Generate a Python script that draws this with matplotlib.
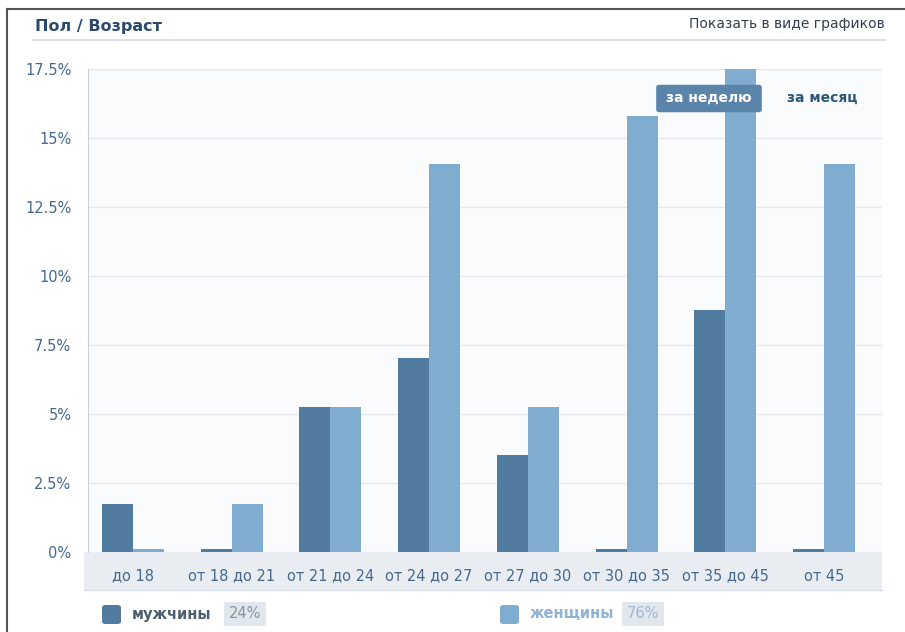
import numpy as np
from matplotlib import pyplot as plt
from matplotlib.patches import FancyBboxPatch, Rectangle
from matplotlib.lines import Line2D

categories = ['до 18', 'от 18 до 21', 'от 21 до 24', 'от 24 до 27',
              'от 27 до 30', 'от 30 до 35', 'от 35 до 45', 'от 45']
men = [1.75, 0, 5.26, 7.02, 3.51, 0, 8.77, 0]
women = [0, 1.75, 5.26, 14.04, 5.26, 15.79, 17.54, 14.04]
yticks = [0, 2.5, 5, 7.5, 10, 12.5, 15, 17.5]
ytick_labels = ['0%', '2.5%', '5%', '7.5%', '10%', '12.5%', '15%', '17.5%']
men_share = '24%'
women_share = '76%'

men_color = '#527ba0'
women_color = '#80acd0'
label_color = '#45688e'

plt.rcParams['font.family'] = ['DejaVu Sans']

fig = plt.figure(figsize=(9.05, 6.32), dpi=100)
W, H = 905, 632


def fx(px):
    return px / W


def fy(py):
    return 1 - py / H


# outer frame (top and left edges)
fig.add_artist(Line2D([fx(7), 1], [fy(9), fy(9)], color='#555555', lw=1.5))
fig.add_artist(Line2D([fx(7), fx(7)], [fy(9), 0], color='#555555', lw=1.5))

# header
fig.text(fx(35), fy(26), 'Пол / Возраст', fontsize=11.5, fontweight='bold',
         color='#2b4a6b', va='center', ha='left')
fig.text(fx(885), fy(24), 'Показать в виде графиков', fontsize=10,
         color='#333f4c', va='center', ha='right')
fig.add_artist(Line2D([fx(33), fx(885)], [fy(40), fy(40)], color='#dde3ea', lw=1.5))

# x label band
fig.add_artist(Rectangle((fx(84), fy(590)), fx(882 - 84), fy(552) - fy(590),
                         facecolor='#e9edf2', edgecolor='none', zorder=0))
fig.add_artist(Line2D([fx(84), fx(882)], [fy(590), fy(590)], color='#d9dfe6', lw=1))

ax = fig.add_axes([fx(88), fy(552), fx(882 - 88), fy(69) - fy(552)])
ax.set_facecolor('#fafbfc')

x = np.arange(len(categories))
w = 0.314
stub = 0.1
ax.bar(x - w / 2, np.maximum(men, stub), width=w, color=men_color, zorder=3)
ax.bar(x + w / 2, np.maximum(women, stub), width=w, color=women_color, zorder=3)

ax.set_xlim(-0.456, len(categories) - 0.412)
ax.set_ylim(0, 17.5)
ax.set_yticks(yticks)
ax.set_yticklabels(ytick_labels, color=label_color, fontsize=10.5)
ax.set_xticks(x)
ax.set_xticklabels(categories, color=label_color, fontsize=10.5)
ax.tick_params(axis='x', length=0, pad=12)
ax.tick_params(axis='y', length=0, pad=12)
ax.grid(axis='y', color='#e4e8ec', lw=1, zorder=0)
for s in ['top', 'right', 'bottom']:
    ax.spines[s].set_visible(False)
ax.spines['left'].set_color('#c5d2de')

# period buttons
fig.add_artist(FancyBboxPatch((fx(658), fy(111)), fx(102), fy(86) - fy(111),
                              boxstyle='round,pad=0.002,rounding_size=0.004',
                              facecolor='#5b84ab', edgecolor='none', zorder=5))
fig.text(fx(709), fy(98), 'за неделю', fontsize=10, fontweight='bold',
         color='white', ha='center', va='center', zorder=6)
fig.text(fx(822), fy(98), 'за месяц', fontsize=10, fontweight='bold',
         color='#2b587a', ha='center', va='center', zorder=6)

# legend
for px0, col, name, share, tcol, scol in [
        (102, men_color, 'мужчины', men_share, '#4c5d70', '#8593a3'),
        (500, women_color, 'женщины', women_share, '#8fb3d3', '#9fb8cf')]:
    fig.add_artist(FancyBboxPatch((fx(px0), fy(624)), fx(19), fy(605) - fy(624),
                                  boxstyle='round,pad=0,rounding_size=0.004',
                                  facecolor=col, edgecolor='none'))
    fig.text(fx(px0 + 30), fy(614), name, fontsize=10.5, fontweight='bold',
             color=tcol, ha='left', va='center')
    fig.text(fx(px0 + 143), fy(614), share, fontsize=10.5, color=scol,
             ha='center', va='center',
             bbox=dict(boxstyle='square,pad=0.3', facecolor='#e2e7ed', edgecolor='none'))

fig.savefig('out.png', dpi=100)
